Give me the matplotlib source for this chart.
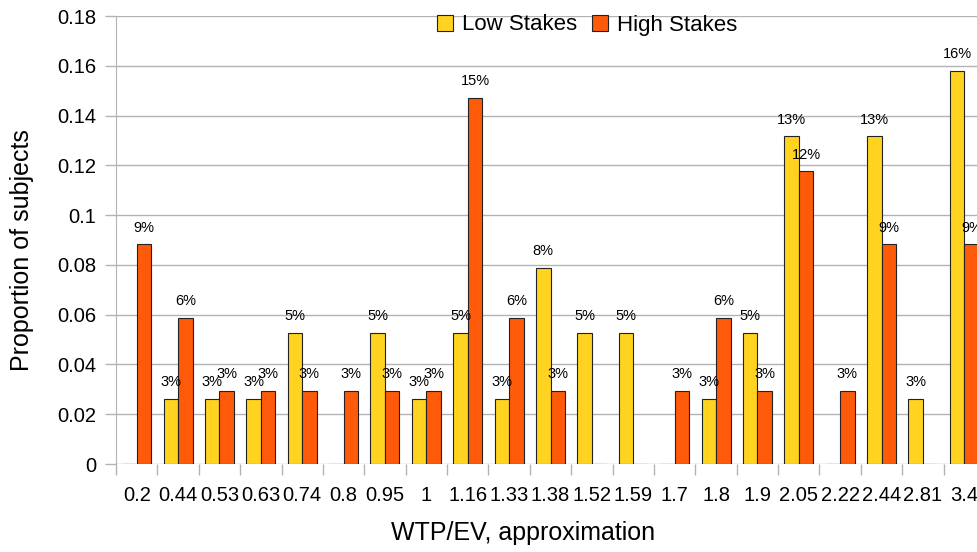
import matplotlib
matplotlib.use("Agg")
import matplotlib.pyplot as plt
import numpy as np

plt.rcParams['font.family'] = ['Liberation Sans', 'DejaVu Sans']

# WTP/EV categories
cats = ['0.2', '0.44', '0.53', '0.63', '0.74', '0.8', '0.95', '1', '1.16', '1.33', '1.38',
        '1.52', '1.59', '1.7', '1.8', '1.9', '2.05', '2.22', '2.44', '2.81', '3.4']

low_stakes = [0, 0.0263, 0.0263, 0.0263, 0.0526, 0, 0.0526, 0.0263, 0.0526, 0.0263, 0.0789,
              0.0526, 0.0526, 0, 0.0263, 0.0526, 0.1316, 0, 0.1316, 0.0263, 0.1579]
high_stakes = [0.0882, 0.0588, 0.0294, 0.0294, 0.0294, 0.0294, 0.0294, 0.0294, 0.1471, 0.0588, 0.0294,
               0, 0, 0.0294, 0.0588, 0.0294, 0.1176, 0.0294, 0.0882, 0, 0.0882]

yellow = '#FFD320'
orange = '#FF5A0A'

fig = plt.figure(figsize=(9.77, 5.52), dpi=100)
ax = fig.add_axes([116/977, 88/552, 869/977, 448/552])

x = np.arange(len(cats))
w = 0.35
b1 = ax.bar(x - w/2, low_stakes, w, color=yellow, edgecolor='#222222', linewidth=0.8,
            label='Low Stakes', zorder=3)
b2 = ax.bar(x + w/2, high_stakes, w, color=orange, edgecolor='#222222', linewidth=0.8,
            label='High Stakes', zorder=3)

for bars, vals in ((b1, low_stakes), (b2, high_stakes)):
    for r, v in zip(bars, vals):
        if v > 0:
            ax.annotate(f"{v*100:.0f}%", (r.get_x() + r.get_width()/2, v),
                        xytext=(0, 7), textcoords='offset points',
                        ha='center', va='bottom', fontsize=10.5, zorder=4,
                        annotation_clip=False)

ax.set_xlim(-0.5, len(cats) - 0.5)
ax.set_ylim(0, 0.18)
ax.set_yticks(np.arange(0, 0.181, 0.02))
ax.set_yticklabels(['0', '0.02', '0.04', '0.06', '0.08', '0.1', '0.12', '0.14', '0.16', '0.18'])
ax.yaxis.grid(True, color='#b3b3b3', linewidth=1, zorder=0)
ax.set_axisbelow(True)

ax.set_xticks(x)
ax.set_xticklabels(cats)
ax.set_xticks(np.arange(-0.5, len(cats)), minor=True)
ax.tick_params(axis='x', which='major', length=0, pad=16, labelsize=14.5)
ax.tick_params(axis='x', which='minor', length=8, color='#b3b3b3', width=1)
ax.tick_params(axis='y', length=8, color='#b3b3b3', width=1, pad=6, labelsize=14.5)

for s in ['top', 'right', 'bottom']:
    ax.spines[s].set_visible(False)
ax.spines['left'].set_color('#b3b3b3')

fig.text(22/977, 1 - 250/552, 'Proportion of subjects', ha='center', va='center',
         rotation=90, fontsize=18)
fig.text(523/977, 1 - 533/552, 'WTP/EV, approximation', ha='center', va='center', fontsize=18)

ax.legend(loc='center', bbox_to_anchor=(587/977, 1 - 25/552), bbox_transform=fig.transFigure,
          ncol=2, frameon=False, fontsize=16, handlelength=0.7, handleheight=0.7,
          columnspacing=0.7, handletextpad=0.4, borderpad=0)

fig.savefig('out.png', dpi=100)
